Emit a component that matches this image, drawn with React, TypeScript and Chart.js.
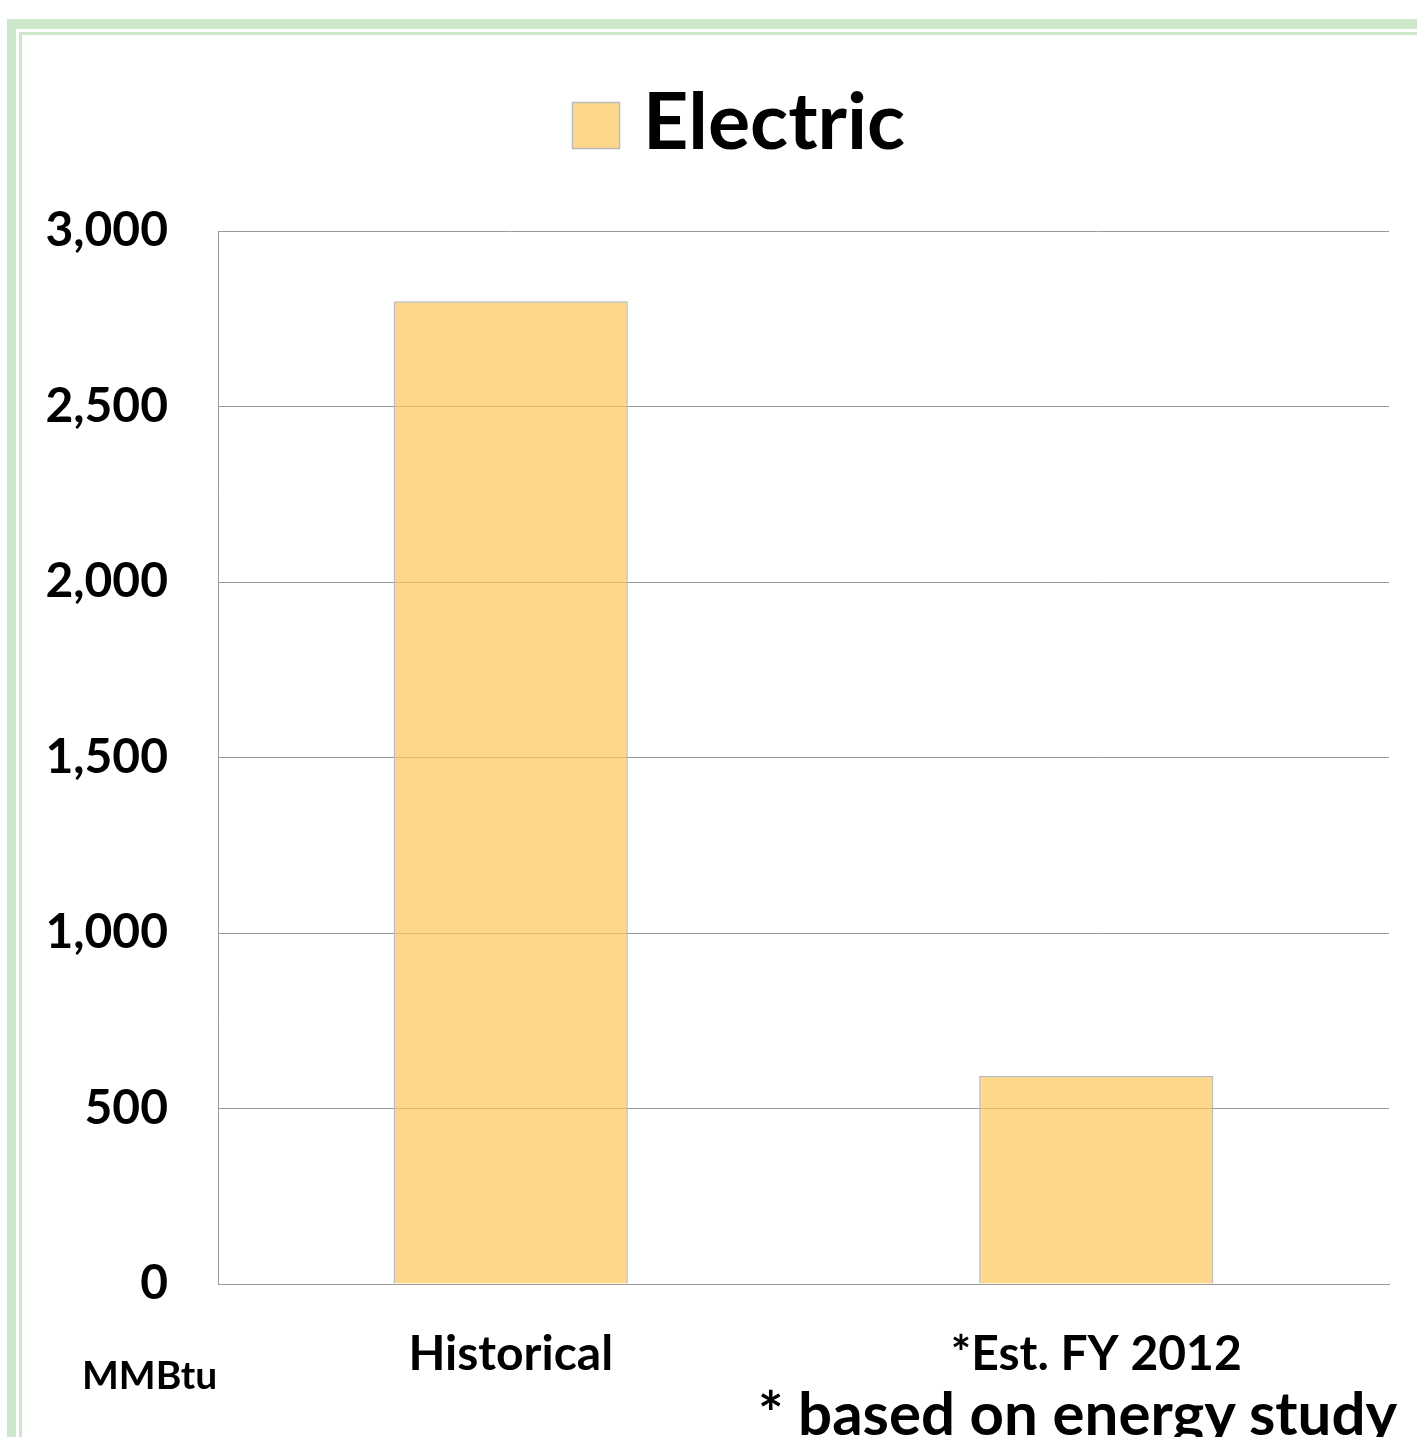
import React, { useEffect, useRef } from "react";
import { Chart, registerables } from "chart.js";

Chart.register(...registerables);

const categories = ["Historical", "*Est. FY 2012"];
const seriesLabel = "Electric";
const electricValues = [2800, 593];
const yMin = 0;
const yMax = 3000;
const yStep = 500;
const unitLabel = "MMBtu";
const footnote = "* based on energy study";

const BAR_FILL = "rgba(252,199,88,0.7)";
const BAR_BORDER = "#bababa";
const GRID = "#999999";
const FONT = "Lato, 'Open Sans', sans-serif";

const legendPlugin = {
  id: "customLegend",
  afterDraw(chart: any) {
    const ctx = chart.ctx;
    const ds = chart.data.datasets[0];
    ctx.save();
    const bx = 572, by = 102, bw = 48, bh = 47;
    ctx.fillStyle = ds.backgroundColor;
    ctx.fillRect(bx, by, bw, bh);
    ctx.strokeStyle = BAR_BORDER;
    ctx.lineWidth = 1.5;
    ctx.strokeRect(bx + 0.5, by + 0.5, bw - 1, bh - 1);
    ctx.fillStyle = "#000";
    ctx.font = `bold 79px ${FONT}`;
    ctx.textBaseline = "middle";
    ctx.textAlign = "left";
    ctx.fillText(ds.label, 643, 124);
    ctx.restore();
  },
};

export default function App() {
  const ref = useRef<HTMLCanvasElement | null>(null);

  useEffect(() => {
    if (!ref.current) return;
    const chart = new Chart(ref.current, {
      type: "bar",
      data: {
        labels: categories,
        datasets: [
          {
            label: seriesLabel,
            data: electricValues,
            backgroundColor: BAR_FILL,
            borderColor: BAR_BORDER,
            borderWidth: 1.5,
            barPercentage: 0.4,
            categoryPercentage: 1,
          },
        ],
      },
      options: {
        responsive: false,
        animation: false,
        devicePixelRatio: 1,
        layout: { padding: { left: 0, right: 28, top: 231, bottom: 0 } },
        plugins: {
          legend: { display: false },
          tooltip: { enabled: false },
          title: { display: false },
        },
        scales: {
          x: {
            grid: { display: false, drawTicks: false },
            border: { display: true, color: GRID, width: 1 },
            ticks: {
              color: "#000",
              font: { family: FONT, size: 48, weight: "bold" },
              padding: 42,
              maxRotation: 0,
              autoSkip: false,
            },
            afterFit: (s: any) => {
              s.height = 153;
            },
          },
          y: {
            min: yMin,
            max: yMax,
            ticks: {
              stepSize: yStep,
              color: "#000",
              font: { family: FONT, size: 48, weight: "bold" },
              padding: 50,
              callback: (v: any) => Number(v).toLocaleString("en-US"),
            },
            grid: { color: GRID, lineWidth: 1, drawTicks: false },
            border: { display: true, color: GRID, width: 1 },
            afterFit: (s: any) => {
              s.width = 218;
            },
          },
        },
      },
      plugins: [legendPlugin],
    });
    return () => chart.destroy();
  }, []);

  return (
    <div
      style={{
        position: "absolute",
        left: 0,
        top: 0,
        width: 1417,
        height: 1437,
        overflow: "hidden",
        background: "#fff",
        fontFamily: FONT,
      }}
    >
      <div
        style={{
          position: "absolute",
          left: 7,
          top: 19,
          width: 1500,
          height: 1500,
          borderTop: "10px solid #cde7cb",
          borderLeft: "9px solid #cde7cb",
        }}
      />
      <div
        style={{
          position: "absolute",
          left: 19,
          top: 32,
          width: 1500,
          height: 1500,
          borderTop: "3px solid #cde7cb",
          borderLeft: "3px solid #cde7cb",
        }}
      />
      <canvas
        ref={ref}
        width={1417}
        height={1437}
        style={{ position: "absolute", left: 0, top: 0, width: 1417, height: 1437 }}
      />
      <div
        style={{
          position: "absolute",
          left: 82,
          top: 1350,
          fontSize: 39,
          fontWeight: "bold",
          lineHeight: "48px",
          color: "#000",
          whiteSpace: "nowrap",
        }}
      >
        {unitLabel}
      </div>
      <div
        style={{
          position: "absolute",
          left: 758,
          top: 1376,
          fontSize: 60,
          fontWeight: "bold",
          lineHeight: "72px",
          color: "#000",
          whiteSpace: "nowrap",
        }}
      >
        {footnote}
      </div>
    </div>
  );
}
